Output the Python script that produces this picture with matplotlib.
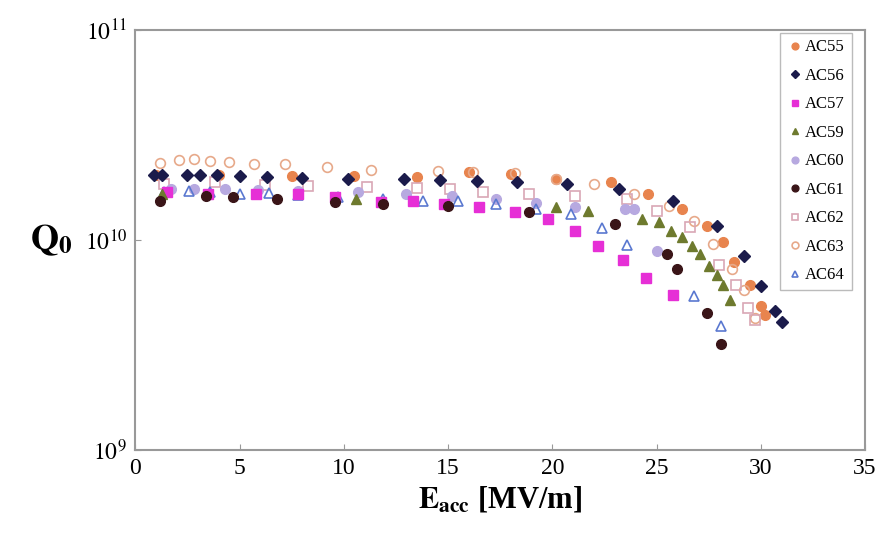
import matplotlib
matplotlib.use("Agg")
import matplotlib.pyplot as plt
from matplotlib.ticker import FixedLocator, NullLocator

plt.rcParams['font.family'] = ['Liberation Serif', 'DejaVu Serif']
plt.rcParams['mathtext.fontset'] = 'stix'

# data (E_acc in MV/m, Q0)
ac55_e = [1.0, 4.0, 7.5, 10.5, 13.5, 16.0, 18.0, 20.2, 22.8, 24.6, 26.2, 27.4, 28.2, 28.7, 29.5, 30.0, 30.2]
ac55_q = [2.05e10, 2.05e10, 2.03e10, 2.02e10, 2.0e10, 2.11e10, 2.06e10, 1.95e10, 1.89e10, 1.66e10,
          1.41e10, 1.17e10, 9.85e9, 7.9e9, 6.1e9, 4.85e9, 4.4e9]

ac56_e = [0.9, 1.3, 2.5, 3.1, 3.9, 5.0, 6.3, 8.0, 10.2, 12.9, 14.6, 16.4, 18.3, 20.7, 23.2,
          25.8, 27.9, 29.2, 30.0, 30.7, 31.0]
ac56_q = [2.04e10, 2.04e10, 2.04e10, 2.04e10, 2.04e10, 2.02e10, 2.0e10, 1.97e10, 1.95e10, 1.95e10,
          1.93e10, 1.91e10, 1.89e10, 1.85e10, 1.75e10, 1.54e10, 1.17e10, 8.4e9, 6.03e9, 4.59e9, 4.07e9]

ac57_e = [1.5, 3.5, 5.8, 7.8, 9.6, 11.8, 13.3, 14.8, 16.5, 18.2, 19.8, 21.1, 22.2, 23.4, 24.5, 25.8]
ac57_q = [1.69e10, 1.66e10, 1.66e10, 1.66e10, 1.61e10, 1.52e10, 1.54e10, 1.49e10, 1.44e10, 1.36e10,
          1.26e10, 1.10e10, 9.4e9, 8.0e9, 6.6e9, 5.5e9]

ac59_e = [1.3, 10.6, 20.2, 21.7, 24.3, 25.1, 25.7, 26.2, 26.7, 27.1, 27.5, 27.9, 28.2, 28.5]
ac59_q = [1.65e10, 1.57e10, 1.44e10, 1.38e10, 1.26e10, 1.22e10, 1.11e10, 1.04e10, 9.4e9, 8.6e9,
          7.5e9, 6.8e9, 6.1e9, 5.2e9]

ac60_e = [1.7, 2.8, 4.3, 5.9, 7.8, 10.7, 13.0, 15.2, 17.3, 19.2, 21.1, 23.5, 23.9, 25.0]
ac60_q = [1.75e10, 1.76e10, 1.75e10, 1.74e10, 1.72e10, 1.70e10, 1.66e10, 1.62e10, 1.57e10, 1.50e10,
          1.44e10, 1.41e10, 1.41e10, 8.9e9]

ac61_e = [1.2, 3.4, 4.7, 6.8, 9.6, 11.9, 15.0, 18.9, 23.0, 25.5, 26.0, 27.4, 28.1]
ac61_q = [1.54e10, 1.62e10, 1.61e10, 1.57e10, 1.52e10, 1.49e10, 1.46e10, 1.36e10, 1.20e10, 8.6e9,
          7.3e9, 4.5e9, 3.2e9]

ac62_e = [1.4, 3.8, 6.2, 8.3, 11.1, 13.5, 15.1, 16.7, 18.9, 21.1, 23.6, 25.0, 26.6, 28.0, 28.8, 29.4, 29.7]
ac62_q = [1.85e10, 1.89e10, 1.83e10, 1.81e10, 1.79e10, 1.77e10, 1.75e10, 1.69e10, 1.66e10, 1.62e10,
          1.57e10, 1.38e10, 1.16e10, 7.6e9, 6.1e9, 4.75e9, 4.16e9]

ac63_e = [1.2, 2.1, 2.8, 3.6, 4.5, 5.7, 7.2, 9.2, 11.3, 14.5, 16.2, 18.2, 20.2, 22.0, 23.9,
          25.6, 26.8, 27.7, 28.6, 29.2, 29.7]
ac63_q = [2.32e10, 2.40e10, 2.43e10, 2.38e10, 2.35e10, 2.30e10, 2.30e10, 2.23e10, 2.15e10, 2.13e10,
          2.11e10, 2.08e10, 1.95e10, 1.85e10, 1.66e10, 1.46e10, 1.24e10, 9.6e9, 7.3e9, 5.8e9, 4.25e9]

ac64_e = [1.4, 2.6, 3.6, 5.0, 6.4, 7.8, 9.7, 11.9, 13.8, 15.5, 17.3, 19.2, 20.9, 22.4, 23.6, 26.8, 28.1]
ac64_q = [1.69e10, 1.72e10, 1.69e10, 1.66e10, 1.67e10, 1.64e10, 1.61e10, 1.57e10, 1.54e10, 1.54e10,
          1.49e10, 1.41e10, 1.33e10, 1.14e10, 9.5e9, 5.4e9, 3.9e9]

x_ticks = [0, 5, 10, 15, 20, 25, 30, 35]
y_ticks = [1e9, 1e10, 1e11]
y_tick_labels = [r'$10^{9}$', r'$10^{10}$', r'$10^{11}$']

fig = plt.figure(figsize=(8.9, 5.39), dpi=100)
ax = fig.add_axes([0.152, 0.165, 0.820, 0.779])

ms = 7
ax.plot(ac55_e, ac55_q, 'o', ms=ms, color='#E8844E', mec='#E8844E', label='AC55')
ax.plot(ac63_e, ac63_q, 'o', ms=ms, mfc='none', mec='#E7A98A', mew=1.2, label='AC63')
ax.plot(ac62_e, ac62_q, 's', ms=ms, mfc='none', mec='#D9A7B5', mew=1.2, label='AC62')
ax.plot(ac60_e, ac60_q, 'o', ms=ms, color='#B7A9E0', label='AC60')
ax.plot(ac64_e, ac64_q, '^', ms=ms, mfc='none', mec='#5A78D0', mew=1.2, label='AC64')
ax.plot(ac57_e, ac57_q, 's', ms=ms, color='#E62FD6', label='AC57')
ax.plot(ac59_e, ac59_q, '^', ms=ms, color='#6E7A2E', label='AC59')
ax.plot(ac61_e, ac61_q, 'o', ms=ms, color='#3A1518', label='AC61')
ax.plot(ac56_e, ac56_q, 'D', ms=6, color='#1B1B4B', label='AC56')

ax.set_yscale('log')
ax.set_xlim(0, 35)
ax.set_ylim(1e9, 1e11)
ax.xaxis.set_major_locator(FixedLocator(x_ticks))
ax.yaxis.set_major_locator(FixedLocator(y_ticks))
ax.yaxis.set_minor_locator(NullLocator())
ax.set_yticklabels(y_tick_labels)
ax.tick_params(axis='both', direction='in', labelsize=17, length=4, color='#999999', pad=6)

for s in ax.spines.values():
    s.set_color('#999999')
    s.set_linewidth(1.5)

ax.set_xlabel(r'$\mathbf{E}_{\mathbf{acc}}$ [MV/m]', fontsize=22, fontweight='bold', labelpad=4)
ax.set_ylabel(r'$\mathbf{Q}_{\mathbf{0}}$', fontsize=26, rotation=0, labelpad=22, va='center')
ax.yaxis.set_label_coords(-0.115, 0.5)

# legend in the order of the original
h, l = ax.get_legend_handles_labels()
order = ['AC55', 'AC56', 'AC57', 'AC59', 'AC60', 'AC61', 'AC62', 'AC63', 'AC64']
hd = dict(zip(l, h))
leg = ax.legend([hd[k] for k in order], order, loc='upper right', bbox_to_anchor=(0.985, 1.0),
                borderaxespad=0.15, fontsize=12, labelspacing=0.75, handletextpad=0.1,
                handlelength=1.0, borderpad=0.4, markerscale=0.7, fancybox=False, framealpha=1)
leg.get_frame().set_edgecolor('#BBBBBB')

fig.savefig('out.png', dpi=100)
